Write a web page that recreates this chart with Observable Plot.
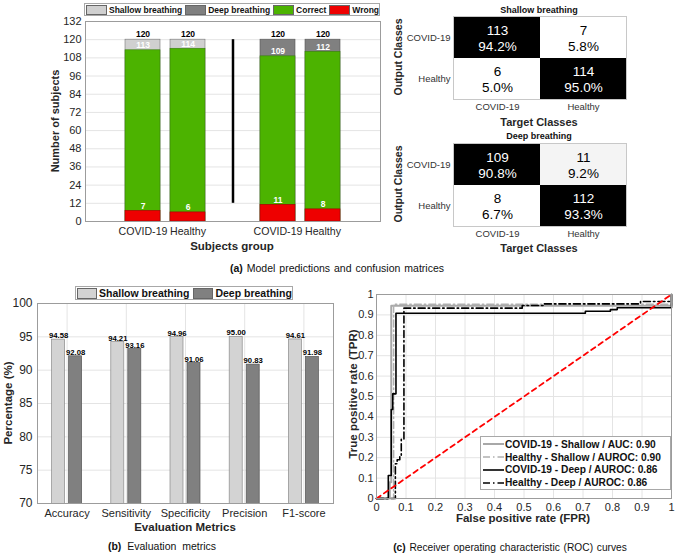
<!DOCTYPE html>
<html><head><meta charset="utf-8">
<script src="https://cdn.jsdelivr.net/npm/d3@7"></script>
<script src="https://cdn.jsdelivr.net/npm/@observablehq/plot@0.6"></script>
<style>
body{margin:0;background:#fff;font-family:"Liberation Sans",Arial,sans-serif;}
#root{position:relative;width:675px;height:558px;overflow:hidden;background:#fff;}
.lg{position:absolute;box-sizing:border-box;border:1px solid #a8a8a8;background:#fff;display:flex;align-items:center;font-weight:bold;color:#111;white-space:nowrap;}
.sw{box-sizing:border-box;border:1px solid #666;display:inline-block;}
</style></head>
<body><div id="root"></div>
<script>
// ---------- data ----------
// (a) bar chart
const slotKeys = ["C-S", "H-S", "gap", "C-D", "H-D"];
const barKeys = ["C-S", "H-S", "C-D", "H-D"];
const barGroup = ["COVID-19", "Healthy", "COVID-19", "Healthy"];
const barMode = ["Shallow", "Shallow", "Deep", "Deep"];
const totalCounts = [120, 120, 120, 120];
const correctCounts = [113, 114, 109, 112];
const wrongCounts = [7, 6, 11, 8];
const yTicksA = [0, 12, 24, 36, 48, 60, 72, 84, 96, 108, 120, 132];
const separatorSpan = [12, 120];
// confusion matrices (rows: output class, cols: target class)
const cmClasses = ["COVID-19", "Healthy"];
const cmShallow = [113, 7, 6, 114];
const cmDeep = [109, 11, 8, 112];
// (b) evaluation metrics
const metrics = ["Accuracy", "Sensitivity", "Specificity", "Precision", "F1-score"];
const shallowScores = [94.58, 94.21, 94.96, 95.00, 94.61];
const deepScores = [92.08, 93.16, 91.06, 90.83, 91.98];
const yTicksB = [70, 75, 80, 85, 90, 95, 100];
// (c) ROC curves (step points)
const rocNames = ["COVID-19 - Shallow / AUC: 0.90", "Healthy - Shallow / AUROC: 0.90", "COVID-19 - Deep / AUROC: 0.86", "Healthy - Deep / AUROC: 0.86"];
const rocCovidShallowFpr = [0, 0.045, 0.05, 1];
const rocCovidShallowTpr = [0, 0.08, 0.945, 1];
const rocHealthyShallowFpr = [0, 0.058, 1];
const rocHealthyShallowTpr = [0, 0.952, 1];
const rocCovidDeepFpr = [0, 0.04, 0.05, 0.055, 0.066, 0.708, 0.793, 0.816, 1];
const rocCovidDeepTpr = [0, 0.113, 0.436, 0.513, 0.908, 0.918, 0.926, 0.935, 1];
const rocHealthyDeepFpr = [0, 0.064, 0.07, 0.079, 0.084, 0.093, 0.494, 0.567, 0.895, 1];
const rocHealthyDeepTpr = [0, 0.17, 0.19, 0.21, 0.29, 0.933, 0.946, 0.954, 0.966, 0.966];
const chanceFpr = [0, 1];
const chanceTpr = [0, 1];
const rocTicks = [0, 0.1, 0.2, 0.3, 0.4, 0.5, 0.6, 0.7, 0.8, 0.9, 1];

// ---------- helpers ----------
const root = document.getElementById("root");
const FONT = "Liberation Sans, Arial, sans-serif";
function put(node, left, top) {
  node.style.position = "absolute"; node.style.left = left + "px"; node.style.top = top + "px";
  node.style.overflow = "visible";
  root.appendChild(node); return node;
}
function label(html, cx, cy, size, opts = {}) {
  const d = document.createElement("div");
  d.innerHTML = html;
  d.style.cssText = `position:absolute;left:${cx}px;top:${cy}px;font-size:${size}px;font-weight:${opts.bold === false ? "normal" : "bold"};color:${opts.color || "#262626"};white-space:nowrap;line-height:1;word-spacing:${opts.ws || 0}px;transform:translate(-50%,-50%)${opts.rot ? " rotate(-90deg)" : ""};`;
  root.appendChild(d); return d;
}
const baseStyle = (fs) => ({fontFamily: FONT, fontSize: fs + "px", color: "#262626", background: "transparent", overflow: "visible"});

// ---------- (a) bar chart ----------
const rowsA = barKeys.map((k, i) => ({key: k, group: barGroup[i], mode: barMode[i], total: totalCounts[i], correct: correctCounts[i], wrong: wrongCounts[i]}));
const tickNameA = Object.fromEntries(barKeys.map((k, i) => [k, barGroup[i]]));
const chartA = Plot.plot({
  width: 390, height: 260, marginLeft: 85, marginRight: 10, marginTop: 21, marginBottom: 39,
  style: baseStyle(10.6),
  x: {type: "band", domain: slotKeys, paddingInner: 0.22, paddingOuter: 0.82},
  y: {domain: [0, 132]},
  marks: [
    Plot.gridY({ticks: yTicksA, stroke: "#e4e4e4", strokeOpacity: 1}),
    Plot.barY(rowsA.filter(d => d.mode === "Shallow"), {x: "key", y: "total", fill: "#d0d0d0", stroke: "#777", strokeWidth: 0.6}),
    Plot.barY(rowsA.filter(d => d.mode === "Deep"), {x: "key", y: "total", fill: "#808080", stroke: "#555", strokeWidth: 0.6}),
    Plot.barY(rowsA, {x: "key", y: "correct", fill: "#4cb300", stroke: "#3a7d10", strokeWidth: 0.6}),
    Plot.barY(rowsA, {x: "key", y: "wrong", fill: "#ee0000", stroke: "#a00000", strokeWidth: 0.6}),
    Plot.ruleX(["gap"], {x: d => d, y1: () => separatorSpan[0], y2: () => separatorSpan[1], stroke: "#000", strokeWidth: 2.5}),
    Plot.text(rowsA, {x: "key", y: "total", text: d => String(d.total), dy: -5, fontSize: 8.5, fontWeight: "bold", fill: "#000"}),
    Plot.text(rowsA, {x: "key", y: "correct", text: d => String(d.correct), dy: -5, fontSize: 8.5, fontWeight: "bold", fill: "#fff"}),
    Plot.text(rowsA, {x: "key", y: "wrong", text: d => String(d.wrong), dy: -5, fontSize: 8.5, fontWeight: "bold", fill: "#fff"}),
    Plot.axisX({tickSize: 0, tickPadding: 6, label: null, tickFormat: k => tickNameA[k] ?? ""}),
    Plot.axisY({ticks: yTicksA, tickSize: 0, tickPadding: 4, label: null, fontSize: 11}),
    Plot.frame({stroke: "#9c9c9c"})
  ]
});
put(chartA, 0, 0);

// legend (a)
(function () {
  const lg = document.createElement("div");
  lg.className = "lg";
  lg.style.cssText += "left:84px;top:3px;width:296px;height:13px;font-size:8.5px;padding:0 1px;gap:3px;";
  const items = [["Shallow breathing", "#d0d0d0"], ["Deep breathing", "#808080"], ["Correct", "#4cb300"], ["Wrong", "#ee0000"]];
  items.forEach(([t, c]) => {
    const it = document.createElement("span");
    it.style.cssText = "display:flex;align-items:center;gap:2px;";
    it.innerHTML = `<span class="sw" style="width:21px;height:10px;background:${c}"></span><span>${t}</span>`;
    lg.appendChild(it);
  });
  root.appendChild(lg);
})();
label("Number of subjects", 55, 121, 11, {rot: true});
label("Subjects group", 232, 247, 11.5);

// ---------- confusion matrices ----------
function cmChart(counts) {
  const cells = [];
  cmClasses.forEach((out, r) => cmClasses.forEach((tgt, c) => {
    const n = counts[r * 2 + c];
    const rowSum = counts[r * 2] + counts[r * 2 + 1];
    cells.push({output: out, target: tgt, n, pct: n / rowSum * 100, diag: r === c});
  }));
  return Plot.plot({
    width: 295, height: 130, marginLeft: 73, marginRight: 49, marginTop: 16, marginBottom: 31,
    style: baseStyle(9.5),
    x: {domain: cmClasses, padding: 0},
    y: {domain: cmClasses, padding: 0},
    color: {type: "identity"},
    marks: [
      Plot.cell(cells, {x: "target", y: "output", fill: d => d.diag ? "#000000" : (d.n > 10 ? "#f4f4f4" : "#ffffff"), inset: 0}),
      Plot.text(cells, {x: "target", y: "output", text: d => `${d.n}\n${d.pct.toFixed(1)}%`, fill: d => d.diag ? "#ffffff" : "#000000", fontSize: 13.5, lineHeight: 1.2}),
      Plot.axisX({tickSize: 0, tickPadding: 4, label: null, fill: "#333"}),
      Plot.axisY({tickSize: 0, tickPadding: 3, label: null, fill: "#333"}),
      Plot.frame({stroke: "#c8c8c8"})
    ]
  });
}
put(cmChart(cmShallow), 380, 0);
put(cmChart(cmDeep), 380, 127);
label("Shallow breathing", 539, 10, 9, {color: "#111"});
label("Deep breathing", 539, 136, 9, {color: "#111"});
label("Output Classes", 398, 57, 10.5, {rot: true});
label("Output Classes", 398, 184, 10.5, {rot: true});
label("Target Classes", 539, 122, 11);
label("Target Classes", 539, 248, 11);
label("<b>(a)</b> Model predictions and confusion matrices", 337, 268, 10.5, {bold: false, color: "#111", ws: 1});

// ---------- (b) evaluation metrics ----------
const rowsB = metrics.map((m, i) => ({metric: m, shallow: shallowScores[i], deep: deepScores[i]}));
const wB = 340, mlB = 37, mrB = 7;
const bwB = (wB - mlB - mrB) / metrics.length;
const barWB = 13, offB = 8.5;
const inB = (bwB - barWB) / 2;
const chartB = Plot.plot({
  width: wB, height: 250, marginLeft: mlB, marginRight: mrB, marginTop: 23, marginBottom: 27,
  style: baseStyle(11),
  x: {domain: metrics, padding: 0, round: false},
  y: {domain: [70, 100]},
  marks: [
    Plot.gridY({ticks: yTicksB, stroke: "#e4e4e4", strokeOpacity: 1}),
    Plot.gridX({stroke: "#e4e4e4", strokeOpacity: 1}),
    Plot.barY(rowsB, {x: "metric", y: "shallow", fill: "#d3d3d3", stroke: "#8a8a8a", strokeWidth: 0.7, insetLeft: inB, insetRight: inB, dx: -offB, clip: true}),
    Plot.barY(rowsB, {x: "metric", y: "deep", fill: "#808080", stroke: "#555", strokeWidth: 0.7, insetLeft: inB, insetRight: inB, dx: offB, clip: true}),
    Plot.text(rowsB, {x: "metric", y: "shallow", text: d => d.shallow.toFixed(2), dx: -offB, dy: -1.5, lineAnchor: "bottom", fontSize: 7.7, fontWeight: "bold", fill: "#000"}),
    Plot.text(rowsB, {x: "metric", y: "deep", text: d => d.deep.toFixed(2), dx: offB, dy: -1.5, lineAnchor: "bottom", fontSize: 7.7, fontWeight: "bold", fill: "#000"}),
    Plot.axisX({tickSize: 0, tickPadding: 6, label: null}),
    Plot.axisY({ticks: yTicksB, tickSize: 0, tickPadding: 5, label: null, fontSize: 12}),
    Plot.frame({stroke: "#9c9c9c"})
  ]
});
put(chartB, 0, 280);
(function () {
  const lg = document.createElement("div");
  lg.className = "lg";
  lg.style.cssText += "left:75px;top:286px;width:218px;height:14px;font-size:10.5px;padding:0 1px;gap:4px;";
  [["Shallow breathing", "#d3d3d3"], ["Deep breathing", "#808080"]].forEach(([t, c]) => {
    const it = document.createElement("span");
    it.style.cssText = "display:flex;align-items:center;gap:2px;";
    it.innerHTML = `<span class="sw" style="width:20px;height:11px;background:${c}"></span><span>${t}</span>`;
    lg.appendChild(it);
  });
  root.appendChild(lg);
})();
label("Percentage (%)", 9, 403, 11.5, {rot: true});
label("Evaluation Metrics", 185, 528, 11.5);
label("<b>(b)</b> Evaluation metrics", 162, 546, 10.5, {bold: false, color: "#111", ws: 3});

// ---------- (c) ROC ----------
const rocData = [
  [rocCovidShallowFpr, rocCovidShallowTpr],
  [rocHealthyShallowFpr, rocHealthyShallowTpr],
  [rocCovidDeepFpr, rocCovidDeepTpr],
  [rocHealthyDeepFpr, rocHealthyDeepTpr]
].map(([f, t]) => f.map((v, i) => ({fpr: v, tpr: t[i]})));
const rocStyles = [
  {stroke: "#a8a8a8", strokeWidth: 2, strokeDasharray: null},
  {stroke: "#b0b0b0", strokeWidth: 1.5, strokeDasharray: "7,3,1.5,3"},
  {stroke: "#000000", strokeWidth: 1.6, strokeDasharray: null},
  {stroke: "#000000", strokeWidth: 1.6, strokeDasharray: "7,3,1.5,3"}
];
const chance = chanceFpr.map((v, i) => ({fpr: v, tpr: chanceTpr[i]}));
const fmtRoc = d => (d === 0 || d === 1) ? String(d) : d.toFixed(1);
const chartC = Plot.plot({
  width: 335, height: 250, marginLeft: 36, marginRight: 4, marginTop: 14, marginBottom: 32,
  style: baseStyle(11),
  x: {domain: [0, 1]},
  y: {domain: [0, 1]},
  marks: [
    Plot.gridX({ticks: rocTicks, stroke: "#e4e4e4", strokeOpacity: 1}),
    Plot.gridY({ticks: rocTicks, stroke: "#e4e4e4", strokeOpacity: 1}),
    ...rocData.map((pts, i) => Plot.line(pts, {x: "fpr", y: "tpr", curve: "step-after", ...rocStyles[i], strokeOpacity: 1})),
    Plot.line(chance, {x: "fpr", y: "tpr", stroke: "#ff0000", strokeWidth: 1.8, strokeDasharray: "5,4"}),
    Plot.axisX({ticks: rocTicks, tickSize: 0, tickPadding: 5, label: null, tickFormat: fmtRoc}),
    Plot.axisY({ticks: rocTicks, tickSize: 0, tickPadding: 3, label: null, tickFormat: fmtRoc}),
    Plot.frame({stroke: "#9c9c9c"})
  ]
});
put(chartC, 340, 280);
(function () {
  const lg = document.createElement("div");
  lg.className = "lg";
  lg.style.cssText += "left:480px;top:436px;width:191px;height:54px;font-size:10.2px;flex-direction:column;align-items:flex-start;padding:1px 0 0 2px;";
  rocNames.forEach((name, i) => {
    const s = rocStyles[i];
    const row = document.createElement("div");
    row.style.cssText = "display:flex;align-items:center;height:13px;gap:1px;";
    row.innerHTML = `<svg width="21" height="10"><line x1="0" y1="5" x2="21" y2="5" stroke="${s.stroke}" stroke-width="${s.strokeWidth}" ${s.strokeDasharray ? `stroke-dasharray="${s.strokeDasharray}"` : ""}/></svg><span>${name}</span>`;
    lg.appendChild(row);
  });
  root.appendChild(lg);
})();
label("True positive rate (TPR)", 354, 394, 11.5, {rot: true});
label("False positive rate (FPR)", 523, 519, 11.5);
label("<b>(c)</b> Receiver operating characteristic (ROC) curves", 510, 548, 10.2, {bold: false, color: "#111", ws: 1});
</script>
</body></html>
